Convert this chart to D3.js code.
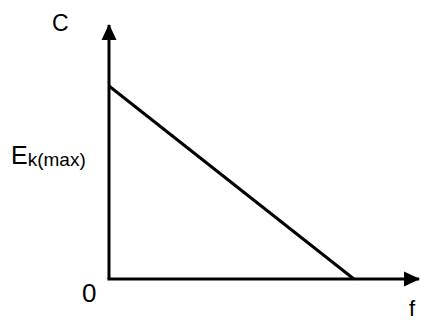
<!DOCTYPE html>
<html>
<head>
<meta charset="utf-8">
<script src="https://cdn.jsdelivr.net/npm/d3@7"></script>
<style>
  html, body { margin: 0; padding: 0; background: #fff; }
  svg { display: block; font-family: "Liberation Sans", Arial, sans-serif; }
</style>
</head>
<body>
<svg id="chart" width="421" height="320"></svg>
<script>
// Straight-line relation between frequency f and C, falling to zero at the threshold
const frequencies = [0, 0.79];
const cValues = [0.76, 0];
const axisLabels = { y: "C", x: "f", origin: "0" };

const svg = d3.select("#chart");
const x = d3.scaleLinear().domain([0, 1]).range([109, 419]);
const y = d3.scaleLinear().domain([0, 1]).range([279, 25]);

const ink = "#000";

// axes with arrowheads
svg.append("defs").append("marker")
  .attr("id", "arrow")
  .attr("viewBox", "0 0 16 16")
  .attr("refX", 15).attr("refY", 8)
  .attr("markerWidth", 16).attr("markerHeight", 16)
  .attr("markerUnits", "userSpaceOnUse")
  .attr("orient", "auto")
  .append("path")
  .attr("d", "M0,0.5 L16,8 L0,15.5 Z")
  .attr("fill", ink);

svg.append("line")
  .attr("x1", x(0)).attr("y1", y(0))
  .attr("x2", x(0)).attr("y2", y(1))
  .attr("stroke", ink).attr("stroke-width", 3)
  .attr("marker-end", "url(#arrow)");

svg.append("line")
  .attr("x1", x(0) - 1.5).attr("y1", y(0))
  .attr("x2", x(1)).attr("y2", y(0))
  .attr("stroke", ink).attr("stroke-width", 3)
  .attr("marker-end", "url(#arrow)");

// the relation itself
const pts = frequencies.map((f, i) => [f, cValues[i]]);
svg.append("path")
  .datum(pts)
  .attr("d", d3.line().x(d => x(d[0])).y(d => y(d[1])))
  .attr("fill", "none")
  .attr("stroke", ink)
  .attr("stroke-width", 3);

// labels
svg.append("text")
  .attr("x", 52).attr("y", 31)
  .attr("font-size", 23).attr("fill", ink)
  .text(axisLabels.y);

const ek = svg.append("text")
  .attr("x", 11).attr("y", 164)
  .attr("fill", ink);
ek.append("tspan").attr("font-size", 25).text("E");
ek.append("tspan").attr("font-size", 19).attr("dy", 2).text("k(max)");

svg.append("text")
  .attr("x", 82).attr("y", 302)
  .attr("font-size", 26).attr("fill", ink)
  .text(axisLabels.origin);

svg.append("text")
  .attr("x", 409).attr("y", 316)
  .attr("font-size", 22).attr("fill", ink)
  .text(axisLabels.x);
</script>
</body>
</html>
